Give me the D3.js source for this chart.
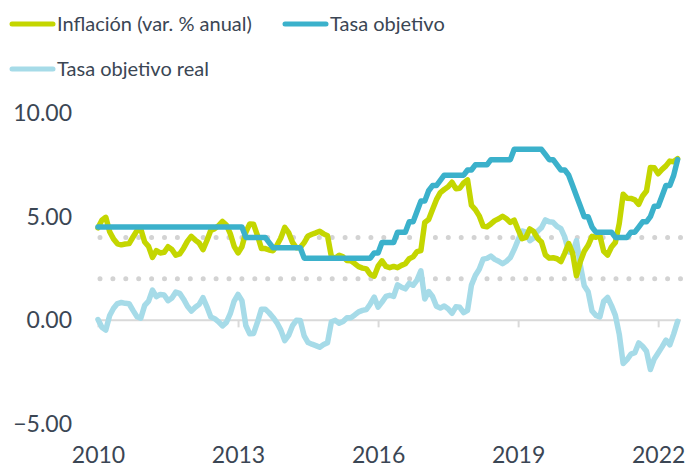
<html><head>
<meta charset="utf-8">
<script src="https://d3js.org/d3.v7.min.js"></script>
<style>
body { margin: 0; background: #fff; }
svg text { font-family: 'Lato', sans-serif; fill: #3b4654; }
</style>
</head>
<body>
<svg id="chart" width="689" height="471"></svg>
<script>
// monthly data, Jan 2010 - Jun 2022
const inflacion = [
  4.46, 4.83, 4.97, 4.27, 3.92, 3.69, 3.64, 3.68, 3.70, 4.02, 4.32, 4.40,
  3.78, 3.57, 3.04, 3.36, 3.25, 3.28, 3.55, 3.42, 3.14, 3.20, 3.48, 3.82,
  4.05, 3.87, 3.73, 3.41, 3.85, 4.34, 4.42, 4.57, 4.77, 4.60, 4.18, 3.57,
  3.25, 3.55, 4.25, 4.65, 4.63, 4.09, 3.47, 3.46, 3.39, 3.36, 3.62, 3.97,
  4.48, 4.23, 3.76, 3.50, 3.51, 3.75, 4.07, 4.15, 4.22, 4.30, 4.17, 4.08,
  3.07, 3.00, 3.14, 3.06, 2.88, 2.87, 2.74, 2.59, 2.52, 2.48, 2.21, 2.13,
  2.61, 2.87, 2.60, 2.54, 2.60, 2.54, 2.65, 2.73, 2.97, 3.06, 3.31, 3.36,
  4.72, 4.86, 5.35, 5.82, 6.16, 6.31, 6.44, 6.66, 6.35, 6.37, 6.63, 6.77,
  5.55, 5.34, 5.04, 4.55, 4.51, 4.65, 4.81, 4.90, 5.02, 4.90, 4.72, 4.83,
  4.37, 3.94, 4.00, 4.41, 4.28, 3.95, 3.78, 3.16, 3.00, 3.02, 2.97, 2.83,
  3.24, 3.70, 3.25, 2.15, 2.84, 3.33, 3.62, 4.05, 4.01, 4.09, 3.33, 3.15,
  3.54, 3.76, 4.67, 6.08, 5.89, 5.88, 5.81, 5.59, 6.00, 6.24, 7.37, 7.36,
  7.07, 7.28, 7.45, 7.68, 7.65, 7.80
];

const tasaObjetivo = [
  4.50, 4.50, 4.50, 4.50, 4.50, 4.50, 4.50, 4.50, 4.50, 4.50, 4.50, 4.50,
  4.50, 4.50, 4.50, 4.50, 4.50, 4.50, 4.50, 4.50, 4.50, 4.50, 4.50, 4.50,
  4.50, 4.50, 4.50, 4.50, 4.50, 4.50, 4.50, 4.50, 4.50, 4.50, 4.50, 4.50,
  4.50, 4.50, 4.00, 4.00, 4.00, 4.00, 4.00, 4.00, 3.75, 3.50, 3.50, 3.50,
  3.50, 3.50, 3.50, 3.50, 3.50, 3.00, 3.00, 3.00, 3.00, 3.00, 3.00, 3.00,
  3.00, 3.00, 3.00, 3.00, 3.00, 3.00, 3.00, 3.00, 3.00, 3.00, 3.00, 3.25,
  3.25, 3.75, 3.75, 3.75, 3.75, 4.25, 4.25, 4.25, 4.75, 4.75, 5.25, 5.75,
  5.75, 6.25, 6.50, 6.50, 6.75, 7.00, 7.00, 7.00, 7.00, 7.00, 7.00, 7.25,
  7.25, 7.50, 7.50, 7.50, 7.50, 7.75, 7.75, 7.75, 7.75, 7.75, 7.75, 8.25,
  8.25, 8.25, 8.25, 8.25, 8.25, 8.25, 8.25, 8.00, 7.75, 7.75, 7.50, 7.25,
  7.25, 7.00, 6.50, 6.00, 5.50, 5.00, 5.00, 4.50, 4.25, 4.25, 4.25, 4.25,
  4.25, 4.00, 4.00, 4.00, 4.00, 4.25, 4.25, 4.50, 4.75, 4.75, 5.00, 5.50,
  5.50, 6.00, 6.50, 6.50, 7.00, 7.75
];

const tasaReal = [
  0.04, -0.33, -0.47, 0.23, 0.58, 0.81, 0.86, 0.82, 0.80, 0.48, 0.18, 0.10,
  0.72, 0.93, 1.46, 1.14, 1.25, 1.22, 0.95, 1.08, 1.36, 1.30, 1.02, 0.68,
  0.45, 0.63, 0.77, 1.09, 0.65, 0.16, 0.08, -0.07, -0.27, -0.10, 0.32, 0.93,
  1.25, 0.95, -0.25, -0.65, -0.63, -0.09, 0.53, 0.54, 0.36, 0.14, -0.12, -0.47,
  -0.98, -0.73, -0.26, 0.00, -0.01, -0.75, -1.07, -1.15, -1.22, -1.30, -1.17, -1.08,
  -0.07, 0.00, -0.14, -0.06, 0.12, 0.13, 0.26, 0.41, 0.48, 0.52, 0.79, 1.12,
  0.64, 0.88, 1.15, 1.21, 1.15, 1.71, 1.60, 1.52, 1.78, 1.69, 1.94, 2.39,
  1.03, 1.39, 1.15, 0.68, 0.59, 0.69, 0.56, 0.34, 0.65, 0.63, 0.37, 0.48,
  1.70, 2.16, 2.46, 2.95, 2.99, 3.10, 2.94, 2.85, 2.73, 2.85, 3.03, 3.42,
  3.88, 4.31, 4.25, 3.84, 3.97, 4.30, 4.47, 4.84, 4.75, 4.73, 4.53, 4.42,
  4.01, 3.30, 3.25, 3.85, 2.66, 1.67, 1.38, 0.45, 0.24, 0.16, 0.92, 1.10,
  0.71, 0.24, -0.67, -2.08, -1.89, -1.63, -1.56, -1.09, -1.25, -1.49, -2.37, -1.86,
  -1.57, -1.28, -0.95, -1.18, -0.65, -0.05
];

const yTicks = [10, 5, 0, -5];
const xTickLabels = ['2010', '2013', '2016', '2019', '2022'];
const xTickMonths = [0, 36, 72, 108, 144];
const bandLines = [2, 4];

const series = [
  { name: 'Inflación (var. % anual)', values: inflacion, color: '#c4d600' },
  { name: 'Tasa objetivo', values: tasaObjetivo, color: '#3bb1cb' },
  { name: 'Tasa objetivo real', values: tasaReal, color: '#a6dbe8' }
];

const svg = d3.select('#chart');
const x = d3.scaleLinear().domain([0, 150]).range([98, 681.5]);
const y = d3.scaleLinear().domain([-5, 10]).range([424, 113]);

// y labels (no axis line)
svg.selectAll('.ylab').data(yTicks).enter().append('text')
  .attr('x', 72).attr('y', d => y(d))
  .attr('dy', '0.35em')
  .attr('text-anchor', 'end')
  .style('font-size', '23px')
  .text(d => d3.format('.2f')(d));

// target band dotted lines
svg.selectAll('.band').data(bandLines).enter().append('line')
  .attr('x1', 100).attr('x2', 681)
  .attr('y1', d => y(d)).attr('y2', d => y(d))
  .attr('stroke', '#d3d3d3')
  .attr('stroke-width', 5)
  .attr('stroke-linecap', 'round')
  .attr('stroke-dasharray', '0 12.9');

// x axis at zero
const xAxis = d3.axisBottom(x)
  .tickValues(xTickMonths)
  .tickFormat((d, i) => xTickLabels[i])
  .tickSize(7)
  .tickSizeOuter(0);

const gx = svg.append('g')
  .attr('transform', `translate(0,${y(0)})`)
  .call(xAxis);
gx.select('.domain').attr('stroke', '#d9d9d9').attr('stroke-width', 2).attr('d', `M98,0H681`);
gx.selectAll('.tick line').attr('stroke', '#d9d9d9').attr('stroke-width', 2);
gx.selectAll('.tick text')
  .attr('y', y(-5) - y(0) + 23)
  .attr('dy', '0.71em')
  .attr('fill', '#3b4654')
  .style('font-family', 'Lato, sans-serif')
  .style('font-size', '23px');

const line = d3.line()
  .x((d, i) => x(i))
  .y(d => y(d));

// draw real first, then inflation, then target rate on top
[series[2], series[0], series[1]].forEach(s => {
  svg.append('path')
    .datum(s.values)
    .attr('d', line)
    .attr('fill', 'none')
    .attr('stroke', s.color)
    .attr('stroke-width', 5.5)
    .attr('stroke-linejoin', 'round')
    .attr('stroke-linecap', 'round');
});

// legend
const legendPos = [[12, 24], [285, 24], [12, 69]];
series.forEach((s, i) => {
  const [lx, ly] = legendPos[i];
  svg.append('line')
    .attr('x1', lx).attr('x2', lx + 41)
    .attr('y1', ly).attr('y2', ly)
    .attr('stroke', s.color)
    .attr('stroke-width', 5)
    .attr('stroke-linecap', 'round');
  svg.append('text')
    .attr('x', lx + 45).attr('y', ly)
    .attr('dy', '0.35em')
    .style('font-size', '20px')
    .text(s.name);
});
</script>
</body></html>
